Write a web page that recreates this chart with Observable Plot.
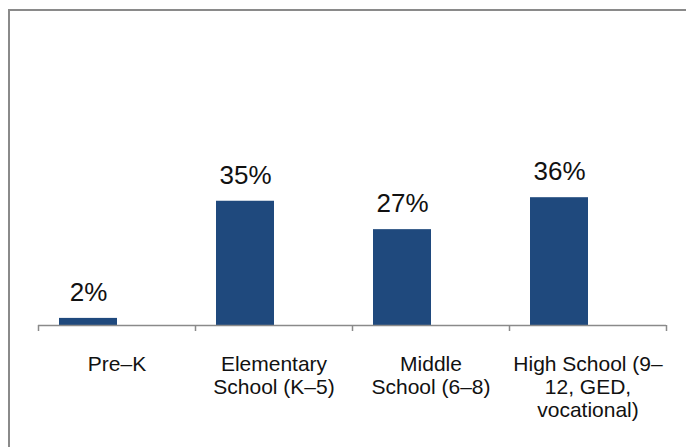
<!DOCTYPE html>
<html>
<head>
<meta charset="utf-8">
<script src="https://cdn.jsdelivr.net/npm/d3@7"></script>
<script src="https://cdn.jsdelivr.net/npm/@observablehq/plot@0.6"></script>
<style>
  html, body { margin: 0; padding: 0; background: #fff; }
  #wrap { position: relative; width: 686px; height: 447px; overflow: hidden; }
  #frame { position: absolute; left: 8px; top: 9px; width: 700px; height: 460px; border: 2px solid #8a8a8a; box-sizing: border-box; pointer-events: none; }
</style>
</head>
<body>
<div id="wrap"><div id="chart"></div><div id="frame"></div></div>
<script>
const categories = ["Pre–K", "Elementary School (K–5)", "Middle School (6–8)", "High School (9–12, GED, vocational)"];
const tickLabels = ["Pre–K", "Elementary\nSchool (K–5)", "Middle\nSchool (6–8)", "High School (9–\n12, GED,\nvocational)"];
const values = [0.02, 0.35, 0.27, 0.36];
const valueLabels = ["2%", "35%", "27%", "36%"];

const data = categories.map((c, i) => ({category: c, value: values[i], label: valueLabels[i], tick: tickLabels[i]}));

const W = 686, H = 447;
const mL = 38, mR = 20;
const step = (W - mL - mR) / categories.length;

const chart = Plot.plot({
  width: W,
  height: H,
  marginLeft: mL,
  marginRight: mR,
  marginTop: 41,
  marginBottom: 122,
  style: {fontFamily: "'Liberation Sans', Arial, sans-serif", background: "transparent", color: "#111"},
  x: {domain: categories, padding: 0, axis: null},
  y: {domain: [0, 0.8], axis: null},
  marks: [
    Plot.barY(data, {x: "category", y: "value", fill: "#1F497D", insetLeft: 21, insetRight: step - 21 - 58}),
    Plot.ruleY([0], {stroke: "#8a8a8a", strokeWidth: 1.5}),
    Plot.ruleX(categories, {x: d => d, dx: -step / 2, y1: 0, y2: 0, insetBottom: -6, stroke: "#8a8a8a", strokeWidth: 1.5}),
    Plot.ruleX([categories[categories.length - 1]], {x: d => d, dx: step / 2, y1: 0, y2: 0, insetBottom: -6, stroke: "#8a8a8a", strokeWidth: 1.5}),
    Plot.text(data, {x: "category", y: "value", text: "label", dx: 21 + 29 - step / 2, dy: -26, fontSize: 26, fill: "#111"}),
    Plot.text(data, {x: "category", y: 0, text: "tick", dy: 29, lineAnchor: "top", lineHeight: 1.1, fontSize: 21, fill: "#111"})
  ]
});
document.getElementById("chart").appendChild(chart);
</script>
</body>
</html>
